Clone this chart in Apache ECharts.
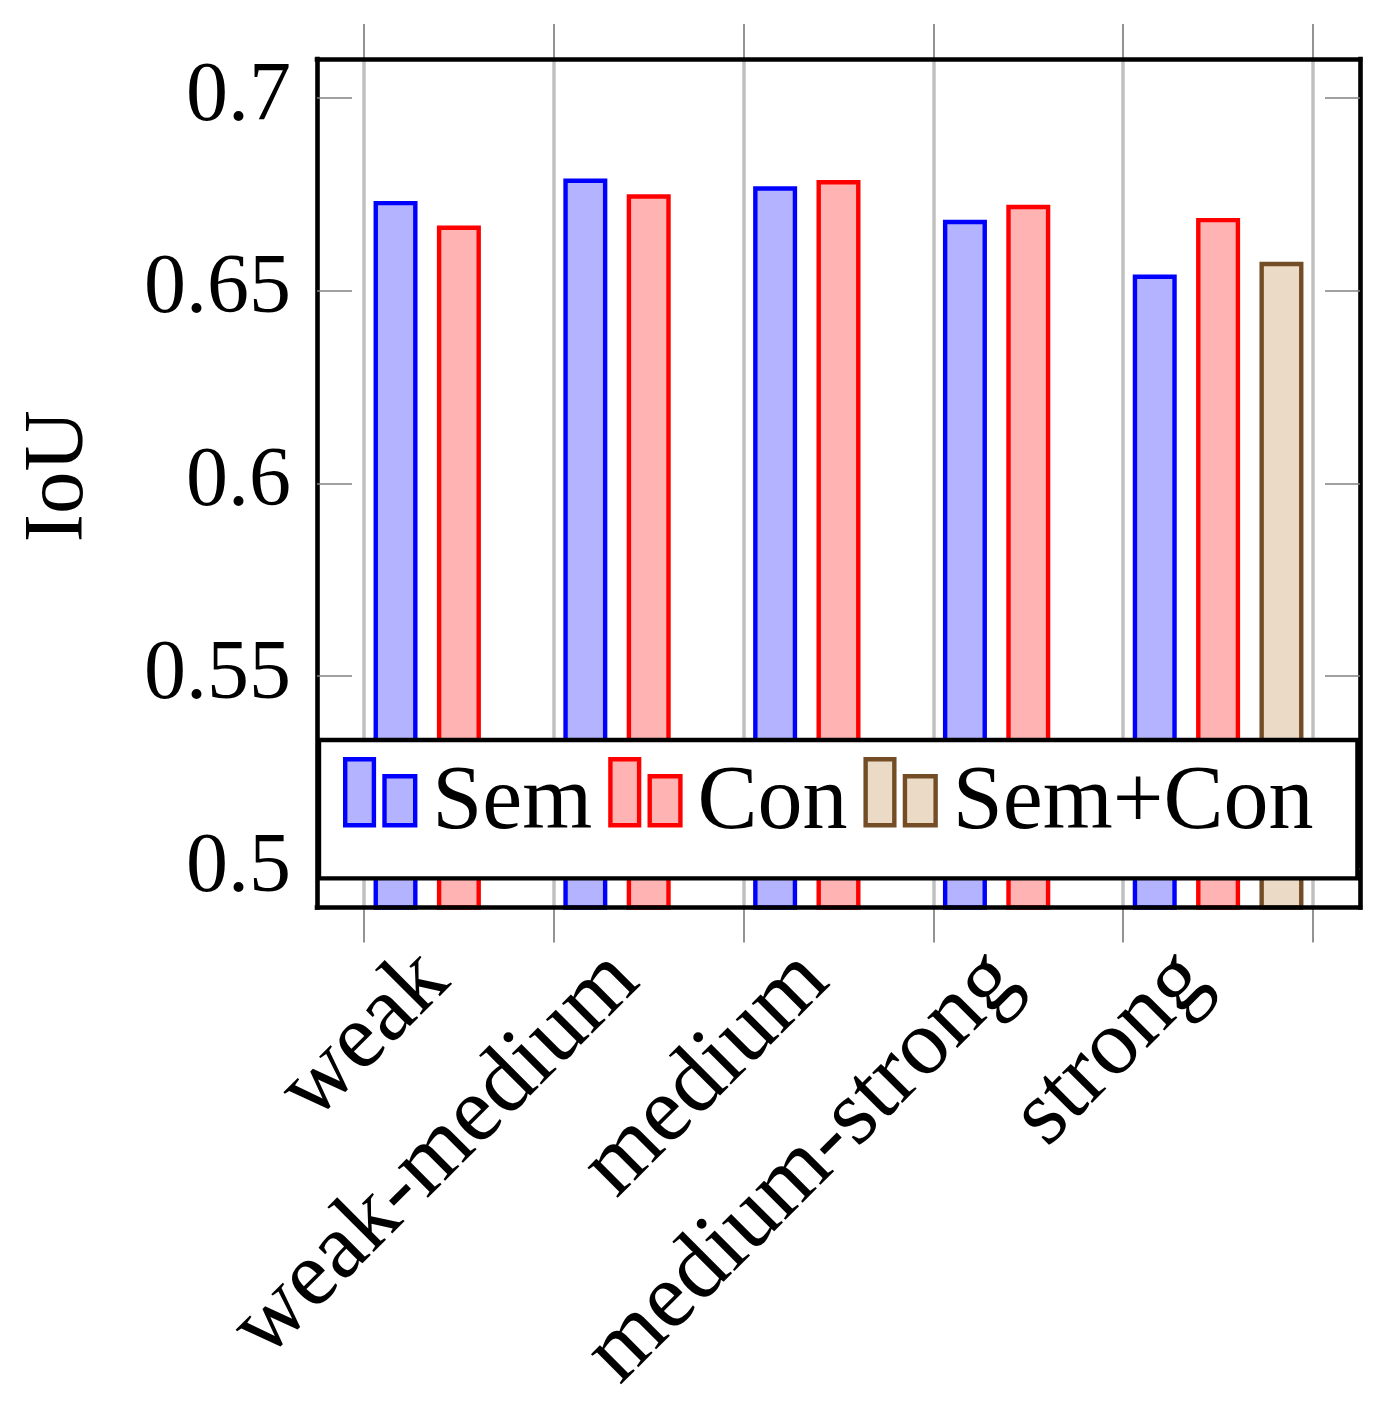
<!DOCTYPE html>
<html>
<head>
    <meta charset="utf-8">
    <title>IoU bars</title>
    <script src="https://cdn.jsdelivr.net/npm/echarts@6/dist/echarts.min.js"></script>
    <style>
        html, body { margin: 0; padding: 0; background: #fff; }
    </style>
</head>
<body>
<div id="main" style="width: 1388px;height:1405px;"></div>
<script type="text/javascript">
    // data
    var categories = ['weak', 'weak-medium', 'medium', 'medium-strong', 'strong'];
    var semValues = [0.6732, 0.6790, 0.6770, 0.6683, 0.6541];
    var conValues = [0.6668, 0.6749, 0.6786, 0.6722, 0.6688];
    var semConValues = [null, null, null, null, 0.6574];
    var yTicks = [0.5, 0.55, 0.6, 0.65, 0.7];
    var yMin = 0.49, yMax = 0.71;

    var FONT = 'Liberation Serif';
    // two little bars; the lone M at the bottom pads the icon box so the text sits lower
    var legendIcon = 'path://M0,0H28.7V66H0Z M39.3,17H70V66H39.3Z M0,90';

    var styles = {
        Sem: {color: '#b3b3ff', borderColor: '#0000ff', borderWidth: 4.4},
        Con: {color: '#ffb3b3', borderColor: '#ff0000', borderWidth: 4.4},
        'Sem+Con': {color: '#ebdac6', borderColor: '#734d26', borderWidth: 4.4}
    };

    var myChart = echarts.init(document.getElementById('main'));

    function frameAxis(pos) {
        return {
            type: 'value', gridIndex: 1, position: pos, min: 0, max: 1, z: 10,
            axisLine: {show: true, onZero: false, lineStyle: {color: '#000', width: 4.6, cap: 'square'}},
            axisTick: {show: false}, axisLabel: {show: false}, splitLine: {show: false}
        };
    }

    function barSeries(name, data) {
        return {
            name: name,
            type: 'bar',
            xAxisIndex: 0,
            yAxisIndex: 0,
            data: data,
            barWidth: 44,
            barGap: '44%',
            itemStyle: styles[name]
        };
    }

    var option = {
        backgroundColor: '#fff',
        animation: false,
        grid: [
            // bars, between the first and last category boundaries
            {left: 364, right: 75, top: 59, bottom: 497.5},
            // the framed box
            {left: 317, right: 28, top: 59, bottom: 497.5}
        ],
        legend: {
            z: 20,
            left: 319,
            top: 740,
            orient: 'horizontal',
            selectedMode: false,
            itemWidth: 70,
            itemHeight: 90,
            itemGap: 16,
            padding: [17, 44, 27, 24],
            backgroundColor: '#fff',
            borderColor: '#000',
            borderWidth: 4.4,
            borderRadius: 0,
            textStyle: {fontFamily: FONT, fontSize: 90, color: '#000', padding: [0, 0, 0, 12]},
            data: ['Sem', 'Con', 'Sem+Con'].map(function (n) {
                return {name: n, icon: legendIcon, itemStyle: styles[n]};
            })
        },
        xAxis: [
            {
                type: 'category', gridIndex: 0, position: 'bottom',
                data: categories, boundaryGap: true,
                axisLine: {show: false, onZero: false},
                axisTick: {show: true, inside: false, length: 35, alignWithLabel: false,
                    lineStyle: {color: '#808080', width: 1.7}},
                splitLine: {show: true, lineStyle: {color: '#c0c0c0', width: 3.5}},
                axisLabel: {
                    interval: 0, rotate: 45, margin: 35, padding: [0, 34, 0, 0],
                    fontFamily: FONT, fontSize: 93, color: '#000'
                }
            },
            {
                type: 'category', gridIndex: 0, position: 'top',
                data: categories, boundaryGap: true,
                axisLine: {show: false, onZero: false},
                axisTick: {show: true, inside: false, length: 35,
                    lineStyle: {color: '#808080', width: 1.7}},
                splitLine: {show: false},
                axisLabel: {show: false}
            },
            frameAxis('bottom'),
            frameAxis('top')
        ],
        yAxis: [
            {
                type: 'value', gridIndex: 0, min: yMin, max: yMax, show: false
            },
            {
                type: 'value', gridIndex: 1, position: 'left', min: yMin, max: yMax, z: 10,
                name: 'IoU', nameLocation: 'middle', nameGap: 215,
                nameTextStyle: {fontFamily: FONT, fontSize: 85, color: '#000', padding: [0, 0, 0, 14]},
                axisLine: {show: true, onZero: false, lineStyle: {color: '#000', width: 4.6, cap: 'square'}},
                axisTick: {show: true, inside: true, length: 35, customValues: yTicks,
                    lineStyle: {color: '#808080', width: 1.7}},
                axisLabel: {
                    customValues: yTicks, margin: 26,
                    fontFamily: FONT, fontSize: 84, color: '#000',
                    formatter: function (v) { return String(+v.toFixed(2)); }
                },
                splitLine: {show: false}
            },
            {
                type: 'value', gridIndex: 1, position: 'right', min: yMin, max: yMax, z: 10,
                axisLine: {show: true, onZero: false, lineStyle: {color: '#000', width: 4.6, cap: 'square'}},
                axisTick: {show: true, inside: true, length: 35, customValues: yTicks,
                    lineStyle: {color: '#808080', width: 1.7}},
                axisLabel: {show: false},
                splitLine: {show: false}
            }
        ],
        series: [
            barSeries('Sem', semValues),
            barSeries('Con', conValues),
            barSeries('Sem+Con', semConValues)
        ]
    };

    myChart.setOption(option);
</script>
</body>
</html>
